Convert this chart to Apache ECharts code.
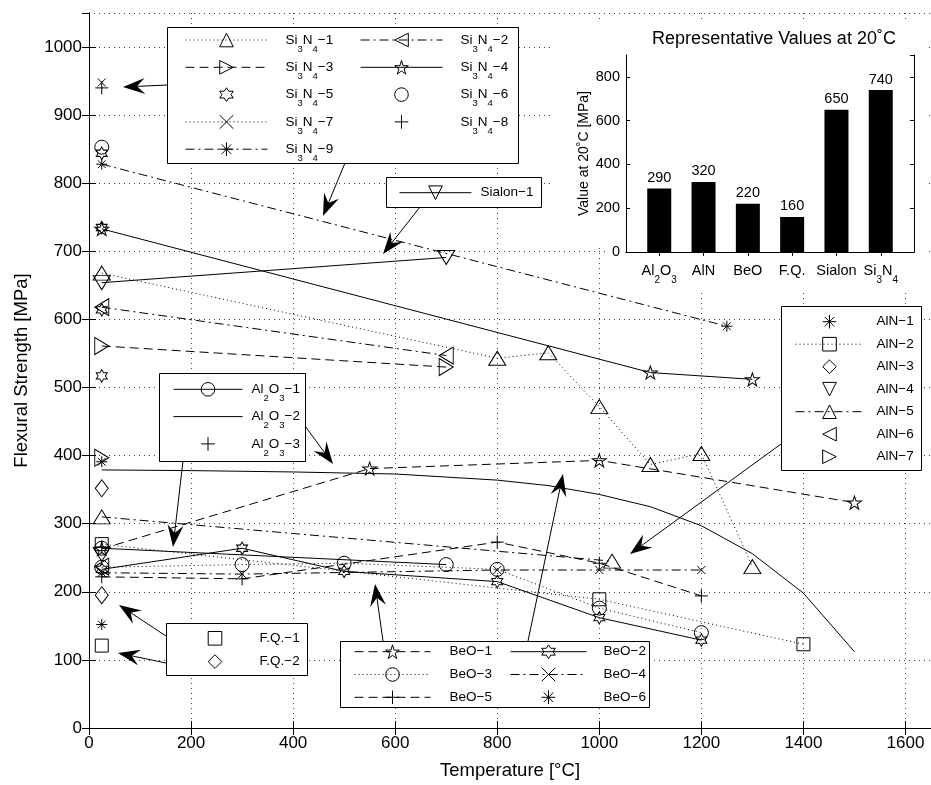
<!DOCTYPE html>
<html>
<head>
<meta charset="utf-8">
<script src="https://cdn.jsdelivr.net/npm/echarts@6/dist/echarts.min.js"></script>
<style>
  html, body { margin: 0; padding: 0; background: #fff; }
  #chart { width: 931px; height: 785px; }
</style>
</head>
<body>
<div id="chart"></div>
<script>
// values: [temperature °C, flexural strength MPa]
const si3n4_1 = [[25, 668], [800, 543], [900, 551], [1000, 472], [1100, 387], [1200, 403], [1300, 237]];
const si3n4_2 = [[25, 618], [700, 547]];
const si3n4_3 = [[25, 561], [700, 530]];
const si3n4_4 = [[25, 733], [1100, 522], [1300, 512]];
const si3n4_5 = [[25, 844], [25, 735], [25, 614], [25, 517]];
const si3n4_6 = [[25, 853]];
const si3n4_7 = [[25, 948]];
const si3n4_8 = [[25, 940]];
const si3n4_9 = [[25, 828], [1250, 590]];
const sialon_1 = [[25, 654], [700, 691]];

const aln_1 = [[25, 391]];
const aln_2 = [[25, 270], [1000, 189], [1400, 123]];
const aln_3 = [[25, 352]];
const aln_4 = [[25, 255]];
const aln_5 = [[25, 310], [1025, 245]];
const aln_6 = [[25, 237]];
const aln_7 = [[25, 397]];

const al2o3_1 = [[25, 264], [700, 240]];
const al2o3_2 = [[25, 379], [200, 378], [400, 376], [600, 373], [800, 364], [900, 356], [1000, 343],
                 [1100, 325], [1200, 297], [1300, 256], [1400, 198], [1500, 112]];
const al2o3_3 = [[25, 266]];

const fq_1 = [[25, 121]];
const fq_2 = [[25, 195]];

const beo_1 = [[25, 263], [550, 381], [1000, 393], [1500, 331]];
const beo_2 = [[25, 233], [300, 264], [500, 230], [800, 215], [1000, 162], [1200, 129]];
const beo_3 = [[25, 236], [300, 240], [500, 242], [800, 233], [1000, 176], [1200, 140]];
const beo_4 = [[25, 228], [300, 226], [800, 232], [1000, 232], [1200, 232]];
const beo_5 = [[25, 222], [300, 219], [800, 273], [1000, 242], [1200, 194]];
const beo_6 = [[25, 152]];

// inset bar chart
const barCats = ['Al2O3', 'AlN', 'BeO', 'F.Q.', 'Sialon', 'Si3N4'];
const barVals = [290, 320, 220, 160, 650, 740];

const FONT = '"Liberation Sans", Arial, Helvetica, sans-serif';

const DASH = { solid: 'solid', dash: [9, 5], dashdot: [9, 4, 2, 4], dot: [1, 3] };

function star(n, rIn) {
  let d = '';
  for (let i = 0; i < 2 * n; i++) {
    const r = i % 2 ? rIn : 1;
    const a = -Math.PI / 2 + i * Math.PI / n;
    d += (i ? 'L' : 'M') + (r * Math.cos(a)).toFixed(3) + ',' + (r * Math.sin(a)).toFixed(3);
  }
  return 'path://' + d + 'Z';
}

const MK = {
  triUp:    { s: 'path://M5,0L10,8.6L0,8.6Z', size: [17, 14] },
  triDown:  { s: 'path://M0,0L10,0L5,8.6Z', size: [17, 14] },
  triLeft:  { s: 'path://M0,5L8.6,0L8.6,10Z', size: [14, 17] },
  triRight: { s: 'path://M0,0L8.6,5L0,10Z', size: [14, 17] },
  penta:    { s: star(5, 0.382), size: [14, 13] },
  hexa:     { s: star(6, 0.577), size: [11, 12.5] },
  circle:   { s: 'circle', size: 14 },
  square:   { s: 'rect', size: 13 },
  diamond:  { s: 'diamond', size: [13, 17] },
  plus:     { s: 'path://M5,0L5,10M0,5L10,5', size: 13 },
  cross:    { s: 'path://M0,0L10,10M10,0L0,10', size: 8 },
  aster:    { s: 'path://M5,0L5,10M0,5L10,5M1.5,1.5L8.5,8.5M8.5,1.5L1.5,8.5', size: 11 }
};

// name, data, line style (null = markers only), marker (null = line only)
const seriesDefs = [
  ['Si3N4-1', si3n4_1, 'dot', 'triUp'],
  ['Si3N4-2', si3n4_2, 'dashdot', 'triLeft'],
  ['Si3N4-3', si3n4_3, 'dash', 'triRight'],
  ['Si3N4-4', si3n4_4, 'solid', 'penta'],
  ['Si3N4-5', si3n4_5, null, 'hexa'],
  ['Si3N4-6', si3n4_6, null, 'circle'],
  ['Si3N4-7', si3n4_7, 'dot', 'cross'],
  ['Si3N4-8', si3n4_8, null, 'plus'],
  ['Si3N4-9', si3n4_9, 'dashdot', 'aster'],
  ['Sialon-1', sialon_1, 'solid', 'triDown'],
  ['AlN-1', aln_1, null, 'aster'],
  ['AlN-2', aln_2, 'dot', 'square'],
  ['AlN-3', aln_3, null, 'diamond'],
  ['AlN-4', aln_4, null, 'triDown'],
  ['AlN-5', aln_5, 'dashdot', 'triUp'],
  ['AlN-6', aln_6, null, 'triLeft'],
  ['AlN-7', aln_7, null, 'triRight'],
  ['Al2O3-1', al2o3_1, 'solid', 'circle'],
  ['Al2O3-2', al2o3_2, 'solid', null],
  ['Al2O3-3', al2o3_3, null, 'plus'],
  ['F.Q.-1', fq_1, null, 'square'],
  ['F.Q.-2', fq_2, null, 'diamond'],
  ['BeO-1', beo_1, 'dash', 'penta'],
  ['BeO-2', beo_2, 'solid', 'hexa'],
  ['BeO-3', beo_3, 'dot', 'circle'],
  ['BeO-4', beo_4, 'dashdot', 'cross'],
  ['BeO-5', beo_5, 'dash', 'plus'],
  ['BeO-6', beo_6, null, 'aster']
];

const series = seriesDefs.map(([name, data, line, marker]) => {
  const m = marker ? MK[marker] : null;
  return {
    name: name,
    type: 'line',
    data: data,
    z: 1,
    silent: true,
    symbol: m ? m.s : 'none',
    symbolSize: m ? m.size : 0,
    showSymbol: !!m,
    lineStyle: { color: '#000', width: 1, type: line ? DASH[line] : 'solid', opacity: line ? 1 : 0 },
    itemStyle: { color: 'transparent', borderColor: '#000', borderWidth: 1, opacity: m ? 1 : 0 },
    emphasis: { disabled: true }
  };
});

series.push({
  name: 'bars',
  type: 'bar',
  xAxisIndex: 2,
  yAxisIndex: 2,
  z: 3,
  silent: true,
  barWidth: 24,
  data: barVals.map((v, i) => [i + 1, v]),
  itemStyle: { color: '#000' },
  label: { show: true, position: 'top', distance: 3, color: '#000', fontFamily: FONT, fontSize: 14.5,
           formatter: p => String(p.value[1]) }
});

// chemical formula -> rich text with subscripts
function formula(txt, tag) {
  return txt.replace(/([A-Za-z.]+)|(\d+)/g, (m, a, d) => a ? '{' + tag + '|' + a + '}' : '{s|' + d + '}');
}
function legendName(name) {
  const i = name.lastIndexOf('-');
  return formula(name.slice(0, i), 'n') + '{n|\u2212' + name.slice(i + 1) + '}';
}
const legendRich = {
  n: { fontFamily: FONT, fontSize: 13.5, color: '#000', lineHeight: 14 },
  s: { fontFamily: FONT, fontSize: 9.5, color: '#000', lineHeight: 9, padding: [11, 0, 0, 0], verticalAlign: 'top' }
};
// rowCenter: y of the first row, rowGap: spacing between rows, sub: names carry subscripts
function block(names, left, rowCenter, itemWidth, pad, rowGap, sub) {
  const h = sub ? 21 : 14.6;
  return {
    orient: 'vertical', left: left, top: rowCenter - 7.3, padding: 0, data: names,
    selectedMode: false, itemWidth: itemWidth, itemHeight: 17, itemGap: rowGap - h, z: 6,
    itemStyle: { borderWidth: 1 },
    lineStyle: { width: 1 },
    formatter: legendName,
    textStyle: { fontFamily: FONT, fontSize: 13.5, color: '#000', padding: [0, 0, 0, pad], rich: legendRich }
  };
}

const legends = [
  block(['Si3N4-1', 'Si3N4-3', 'Si3N4-5', 'Si3N4-7', 'Si3N4-9'], 185, 40, 82, 13, 27, true),
  block(['Si3N4-2', 'Si3N4-4', 'Si3N4-6', 'Si3N4-8'], 360, 40, 82, 13, 27, true),
  block(['Sialon-1'], 399, 192.7, 72, 4, 27, false),
  block(['AlN-1', 'AlN-2', 'AlN-3', 'AlN-4', 'AlN-5', 'AlN-6', 'AlN-7'], 795, 321.7, 68, 8, 22.5, false),
  block(['Al2O3-1', 'Al2O3-2', 'Al2O3-3'], 173, 389.3, 69, 4, 27, true),
  block(['F.Q.-1', 'F.Q.-2'], 180, 638.3, 69, 5, 23.3, false),
  block(['BeO-1', 'BeO-3', 'BeO-5'], 354, 651.7, 76, 14, 22.8, false),
  block(['BeO-2', 'BeO-4', 'BeO-6'], 510, 651.7, 76, 12, 22.8, false)
];

// legend boxes [x, y, w, h]
const boxes = [
  [167, 27, 351, 136],
  [386, 177, 155, 30],
  [781, 306, 140, 164],
  [159, 373, 146, 88],
  [166, 623, 141, 52],
  [340, 641, 309, 66]
];

// annotation arrows: start -> tip (pixels)
const arrows = [
  [167, 85, 123, 87],
  [345, 163, 323, 216],
  [420, 207, 383, 254],
  [781, 444, 630, 554],
  [183, 461, 173, 547],
  [305, 426, 333, 464],
  [166, 636, 119, 605],
  [166, 663, 118, 653],
  [383, 641, 375, 584],
  [528, 641, 563, 474]
];

function arrow(a) {
  const [x1, y1, x2, y2] = a;
  const L = 22, W = 8, N = 14;
  const len = Math.hypot(x2 - x1, y2 - y1), ux = (x2 - x1) / len, uy = (y2 - y1) / len;
  const px = -uy, py = ux;
  return [
    { type: 'line', z: 5, silent: true, shape: { x1: x1, y1: y1, x2: x2 - ux * N, y2: y2 - uy * N },
      style: { stroke: '#000', lineWidth: 1 } },
    { type: 'polygon', z: 5, silent: true,
      shape: { points: [[x2, y2], [x2 - ux * L + px * W, y2 - uy * L + py * W], [x2 - ux * N, y2 - uy * N],
                        [x2 - ux * L - px * W, y2 - uy * L - py * W]] },
      style: { fill: '#000' } }
  ];
}

const elements = [
  // white backing behind the inset
  { type: 'polygon', z: 2, silent: true,
    shape: { points: [[553, 20], [925, 20], [925, 290], [608, 290], [608, 246], [553, 246]] },
    style: { fill: '#fff' } },
  { type: 'text', z: 3, silent: true, x: 774, y: 39,
    style: { text: 'Representative Values at 20\u02DAC', fill: '#000', fontFamily: FONT, fontSize: 18,
             align: 'center', verticalAlign: 'middle' } }
];
boxes.forEach(b => elements.push({
  type: 'rect', z: 5, silent: true, shape: { x: b[0] + 0.5, y: b[1] + 0.5, width: b[2], height: b[3] },
  style: { fill: '#fff', stroke: '#000', lineWidth: 1 }
}));
arrows.forEach(a => elements.push(...arrow(a)));

const axisLine = { show: true, lineStyle: { color: '#000', width: 1 } };
const gridLine = { show: true, lineStyle: { color: '#444', width: 1, type: [1, 4] } };
const tickLab = { color: '#000', fontFamily: FONT, fontSize: 17, formatter: v => String(v) };

function barLabel(v) {
  const c = barCats[Math.round(v) - 1];
  return c ? formula(c, 'c') : '';
}

const option = {
  animation: false,
  backgroundColor: '#fff',
  grid: [
    { left: 89, right: -5, top: 13, bottom: 55 },
    { left: 626, right: 17, top: 55, bottom: 533 }
  ],
  xAxis: [
    { gridIndex: 0, type: 'value', min: 0, max: 1650, interval: 200, position: 'bottom',
      axisLine: axisLine, axisTick: { inside: true, length: 7, lineStyle: { color: '#000' } },
      axisLabel: Object.assign({ margin: 7, showMaxLabel: false }, tickLab), splitLine: gridLine,
      name: 'Temperature [\u00B0C]', nameLocation: 'middle', nameGap: 33,
      nameTextStyle: { color: '#000', fontFamily: FONT, fontSize: 18.5 } },
    { gridIndex: 0, type: 'value', min: 0, max: 1650, interval: 200, position: 'top',
      axisLine: axisLine, axisTick: { inside: true, length: 7, lineStyle: { color: '#000' } },
      axisLabel: { show: false }, splitLine: { show: false } },
    { gridIndex: 1, type: 'value', min: 0.25, max: 6.75, position: 'bottom', z: 3,
      axisLine: axisLine,
      axisTick: { inside: true, length: 4, customValues: [1, 2, 3, 4, 5, 6], lineStyle: { color: '#000' } },
      axisLabel: { customValues: [1, 2, 3, 4, 5, 6], formatter: barLabel, margin: 11,
                   color: '#000', fontFamily: FONT, fontSize: 14.5,
                   rich: { c: { fontFamily: FONT, fontSize: 14.5, color: '#000', lineHeight: 16 },
                           s: { fontFamily: FONT, fontSize: 10, color: '#000', lineHeight: 9,
                                padding: [12, 0, 0, 0], verticalAlign: 'top' } } },
      splitLine: { show: false } },
    { gridIndex: 1, type: 'value', min: 0.25, max: 6.75, position: 'top', z: 3,
      axisLine: axisLine,
      axisTick: { inside: true, length: 4, customValues: [1, 2, 3, 4, 5, 6], lineStyle: { color: '#000' } },
      axisLabel: { show: false }, splitLine: { show: false } }
  ],
  yAxis: [
    { gridIndex: 0, type: 'value', min: 0, max: 1050, interval: 100, position: 'left',
      axisLine: axisLine, axisTick: { inside: true, length: 7, lineStyle: { color: '#000' } },
      axisLabel: Object.assign({ margin: 7, showMaxLabel: false }, tickLab), splitLine: gridLine,
      name: 'Flexural Strength [MPa]', nameLocation: 'middle', nameGap: 58, nameRotate: 90,
      nameTextStyle: { color: '#000', fontFamily: FONT, fontSize: 18.5 } },
    { gridIndex: 0, type: 'value', min: 0, max: 1050, interval: 100, position: 'right',
      axisLine: axisLine, axisTick: { inside: true, length: 7, lineStyle: { color: '#000' } },
      axisLabel: { show: false }, splitLine: { show: false } },
    { gridIndex: 1, type: 'value', min: 0, max: 900, interval: 200, position: 'left', z: 3,
      axisLine: axisLine, axisTick: { inside: true, length: 4, lineStyle: { color: '#000' } },
      axisLabel: { margin: 6, showMaxLabel: false, color: '#000', fontFamily: FONT, fontSize: 14.5 },
      splitLine: { show: false },
      name: 'Value at 20\u02DAC [MPa]', nameLocation: 'middle', nameGap: 35, nameRotate: 90,
      nameTextStyle: { color: '#000', fontFamily: FONT, fontSize: 14 } },
    { gridIndex: 1, type: 'value', min: 0, max: 900, interval: 200, position: 'right', z: 3,
      axisLine: axisLine, axisTick: { inside: true, length: 4, lineStyle: { color: '#000' } },
      axisLabel: { show: false }, splitLine: { show: false } }
  ],
  legend: legends,
  graphic: { elements: elements },
  series: series
};

const chart = echarts.init(document.getElementById('chart'), null, { renderer: 'canvas' });
chart.setOption(option);
window.addEventListener('resize', () => chart.resize());
</script>
</body>
</html>
